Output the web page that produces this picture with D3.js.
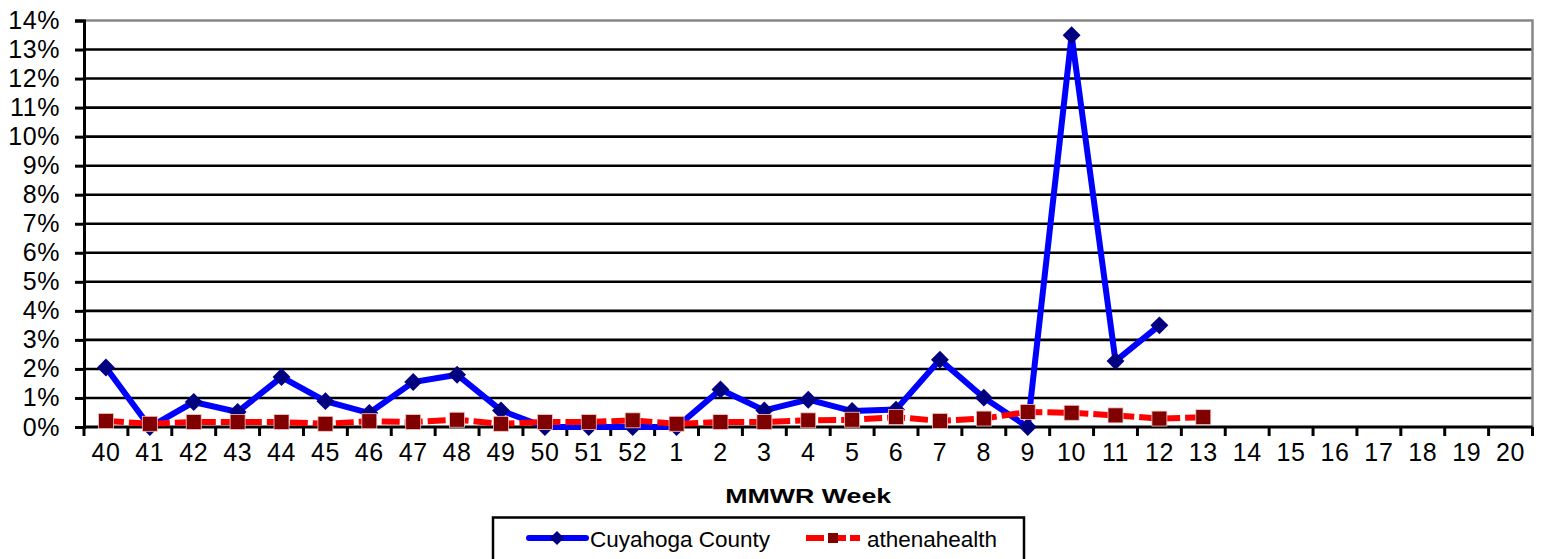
<!DOCTYPE html>
<html>
<head>
<meta charset="utf-8">
<script src="https://cdn.jsdelivr.net/npm/d3@7"></script>
<style>
  html, body { margin: 0; padding: 0; background: #fff; }
  svg { display: block; font-family: "Liberation Sans", Arial, sans-serif; }
</style>
</head>
<body>
<svg id="chart" width="1541" height="559"></svg>
<script>
// ---- data ----
const weeks = ["40","41","42","43","44","45","46","47","48","49","50","51","52",
               "1","2","3","4","5","6","7","8","9","10","11","12","13","14","15","16","17","18","19","20"];
const cuyahoga = [2.05,0,0.86,0.52,1.72,0.89,0.48,1.55,1.80,0.57,0,0,0,
                  0,1.29,0.57,0.94,0.55,0.60,2.32,1.01,0,13.49,2.27,3.5];
const athena = [0.21,0.11,0.17,0.17,0.17,0.11,0.20,0.17,0.25,0.11,0.17,0.17,0.23,
                0.11,0.17,0.17,0.23,0.25,0.34,0.21,0.29,0.52,0.49,0.40,0.29,0.34];
const yTicks = [0,1,2,3,4,5,6,7,8,9,10,11,12,13,14];
const seriesNames = ["Cuyahoga County", "athenahealth"];
const xTitle = "MMWR Week";

(function () {
// ---- layout ----
const svg = d3.select("#chart");
const pLeft = 84, pRight = 1532.5, pTop = 20.5, pBottom = 427;
const x = d3.scaleBand().domain(weeks).range([pLeft, pRight]).padding(0);
const y = d3.scaleLinear().domain([0, 14]).range([pBottom, pTop]);
const cx = w => x(w) + x.bandwidth() / 2;

// gridlines
svg.append("g").selectAll("line")
  .data(yTicks.filter(v => v > 0 && v < 14))
  .join("line")
  .attr("x1", pLeft).attr("x2", pRight)
  .attr("y1", d => y(d)).attr("y2", d => y(d))
  .attr("stroke", "#000").attr("stroke-width", 2.6);

// top & right border (gray)
svg.append("path")
  .attr("d", `M${pLeft},${y(14)}H${pRight}V${pBottom}`)
  .attr("fill", "none").attr("stroke", "#868686").attr("stroke-width", 2.5);

// y axis
const yAxis = svg.append("g")
  .attr("transform", `translate(${pLeft},0)`)
  .call(d3.axisLeft(y).tickValues(yTicks).tickFormat(d => d + "%").tickSize(9).tickPadding(15));
yAxis.select(".domain").attr("stroke", "#000").attr("stroke-width", 3);
yAxis.selectAll(".tick line").attr("stroke", "#000").attr("stroke-width", 3);
yAxis.selectAll("text").attr("font-size", 25).attr("fill", "#000")
  .attr("letter-spacing", 0.6)
  .attr("font-family", "Liberation Sans, Arial, sans-serif");

// x axis labels
const xAxis = svg.append("g")
  .attr("transform", `translate(0,${pBottom})`)
  .call(d3.axisBottom(x).tickSize(0).tickPadding(16));
xAxis.select(".domain").remove();
xAxis.selectAll("text").attr("font-size", 25).attr("fill", "#000")
  .attr("letter-spacing", 0.6)
  .attr("font-family", "Liberation Sans, Arial, sans-serif");

// x tick marks at band edges
const edges = weeks.map(w => x(w)).concat([pRight]);
svg.append("g").selectAll("line").data(edges).join("line")
  .attr("x1", d => d).attr("x2", d => d)
  .attr("y1", pBottom).attr("y2", pBottom + 9)
  .attr("stroke", "#000").attr("stroke-width", 3);
svg.append("line").attr("x1", pLeft).attr("x2", pRight)
  .attr("y1", pBottom).attr("y2", pBottom)
  .attr("stroke", "#000").attr("stroke-width", 3);

// x title
svg.append("text")
  .attr("x", (pLeft + pRight) / 2).attr("y", 503)
  .attr("text-anchor", "middle")
  .attr("font-size", 21).attr("font-weight", "bold")
  .attr("textLength", 166).attr("lengthAdjust", "spacingAndGlyphs")
  .text(xTitle);

// series
const line = d3.line().x(d => cx(d.w)).y(d => y(d.v));
const cData = cuyahoga.map((v, i) => ({ w: weeks[i], v }));
const aData = athena.map((v, i) => ({ w: weeks[i], v }));

svg.append("path").datum(cData).attr("d", line)
  .attr("fill", "none").attr("stroke", "#0000FF").attr("stroke-width", 6)
  .attr("stroke-linejoin", "miter");
const diamond = d3.symbol().type(d3.symbolSquare).size(160);
svg.append("g").selectAll("path").data(cData).join("path")
  .attr("d", diamond())
  .attr("transform", d => `translate(${cx(d.w)},${y(d.v)}) rotate(45)`)
  .attr("fill", "#000080");

svg.append("path").datum(aData).attr("d", line)
  .attr("fill", "none").attr("stroke", "#FF0000").attr("stroke-width", 6)
  .attr("stroke-dasharray", "18,5");
svg.append("g").selectAll("rect").data(aData).join("rect")
  .attr("x", d => cx(d.w) - 7.5).attr("y", d => y(d.v) - 7.5)
  .attr("width", 15).attr("height", 15)
  .attr("fill", "#800000").attr("stroke", "#f4c8c8").attr("stroke-width", 0.8);

// legend
const lg = svg.append("g");
lg.append("rect").attr("x", 493).attr("y", 517.5).attr("width", 531).attr("height", 50)
  .attr("fill", "#fff").attr("stroke", "#000").attr("stroke-width", 2.5);
const ly = 538;
lg.append("line").attr("x1", 529).attr("x2", 586).attr("y1", ly).attr("y2", ly)
  .attr("stroke", "#0000FF").attr("stroke-width", 6).attr("stroke-linecap", "round");
lg.append("path").attr("d", d3.symbol().type(d3.symbolSquare).size(100)())
  .attr("transform", `translate(557,${ly}) rotate(45)`).attr("fill", "#000080");
lg.append("text").attr("x", 590).attr("y", 547).attr("font-size", 22.5).text(seriesNames[0]);

lg.append("line").attr("x1", 806).attr("x2", 860).attr("y1", ly).attr("y2", ly)
  .attr("stroke", "#FF0000").attr("stroke-width", 6).attr("stroke-dasharray", "18,4")
  .attr("stroke-linecap", "butt");
lg.append("rect").attr("x", 828).attr("y", ly - 5).attr("width", 10).attr("height", 10)
  .attr("fill", "#800000");
lg.append("text").attr("x", 867).attr("y", 547).attr("font-size", 22.5).text(seriesNames[1]);
})();
</script>
</body>
</html>
